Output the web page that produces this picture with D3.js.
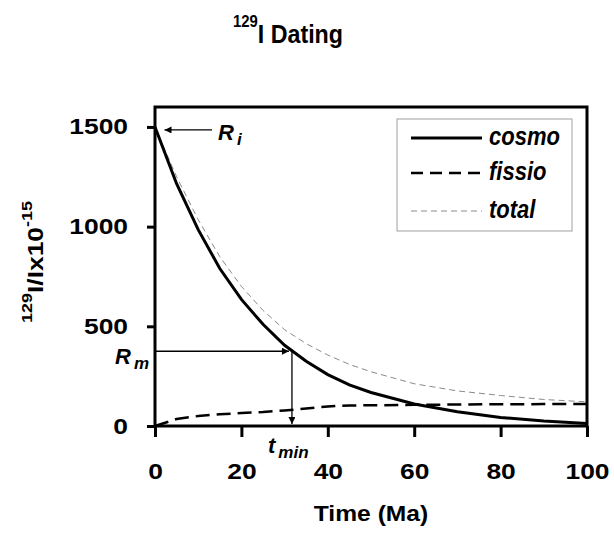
<!DOCTYPE html>
<html><head><meta charset="utf-8">
<script src="https://cdn.jsdelivr.net/npm/d3@7"></script>
<style>
html,body{margin:0;padding:0;background:#fff;}
svg{display:block;font-family:"Liberation Sans",Arial,sans-serif;}
</style></head>
<body>
<svg id="c" width="614" height="536"></svg>
<script>
// ---- data ----
const time   = [0, 5, 10, 15, 20, 25, 30, 35, 40, 45, 50, 60, 70, 80, 90, 100];
const cosmo  = [1500, 1215, 985, 790, 635, 510, 405, 325, 258, 206, 168, 110, 72, 43, 25, 12];
const fissio = [0, 35, 50, 59, 65, 70, 78, 88, 98, 103, 104, 106, 108, 109, 110, 110];
const total  = [1500, 1250, 1035, 849, 700, 580, 483, 413, 356, 309, 272, 212, 176, 153, 133, 121];
const xTicks = [0, 20, 40, 60, 80, 100];
const yTicks = [0, 500, 1000, 1500];
const seriesNames = ["cosmo", "fissio", "total"];
const Ri = 1500;      // initial ratio
const Rm = 375;       // measured ratio
const tmin = 31.7;    // minimum age (Ma)

const svg = d3.select("#c");
const L = 155, R = 587, T = 107, B = 426;
const x = d3.scaleLinear().domain([0, 100]).range([L, R]);
const y = d3.scaleLinear().domain([0, 1600]).range([B, T]);

const defs = svg.append("defs");
defs.append("marker").attr("id", "ah").attr("viewBox", "0 0 10 10")
  .attr("refX", 10).attr("refY", 5).attr("markerWidth", 9).attr("markerHeight", 7)
  .attr("markerUnits", "userSpaceOnUse").attr("orient", "auto")
  .append("path").attr("d", "M0,0 L10,5 L0,10 Z").attr("fill", "#000");

// title
const tg = svg.append("g").attr("transform", "translate(233,43) scale(0.93,1)");
const tt = tg.append("text").attr("font-weight", "bold").attr("fill", "#000");
tt.append("tspan").attr("font-size", 16).attr("dy", -16).text("129");
tt.append("tspan").attr("font-size", 25).attr("dy", 16).text("I Dating");

// axes
const xAxis = svg.append("g").attr("transform", `translate(0,${B})`)
  .call(d3.axisBottom(x).tickValues(xTicks).tickSize(11).tickPadding(26).tickFormat(d3.format("d")));
const yAxis = svg.append("g").attr("transform", `translate(${L},0)`)
  .call(d3.axisLeft(y).tickValues(yTicks).tickSize(8).tickPadding(19).tickFormat(d3.format("d")));
[xAxis, yAxis].forEach(a => {
  a.select(".domain").remove();
  a.selectAll(".tick line").attr("stroke", "#000").attr("stroke-width", 3);
  a.selectAll(".tick text").attr("font-size", 22).attr("font-weight", "bold")
   .attr("font-family", "Liberation Sans, Arial, sans-serif").attr("fill", "#000");
});
xAxis.selectAll(".tick text").attr("transform", "scale(1.2,1)");
yAxis.selectAll(".tick text").attr("x", -27 / 1.2).attr("transform", "scale(1.2,1)");

// frame
svg.append("rect").attr("x", L).attr("y", T).attr("width", R - L).attr("height", B - T)
  .attr("fill", "none").attr("stroke", "#000").attr("stroke-width", 3);

// axis titles
svg.append("text").attr("transform", "translate(371,521) scale(1.12,1)")
  .attr("text-anchor", "middle").attr("font-size", 22).attr("font-weight", "bold").text("Time (Ma)");
const yt = svg.append("text").attr("transform", "translate(43,262) rotate(-90) scale(1.2,1)")
  .attr("text-anchor", "middle").attr("font-weight", "bold");
yt.append("tspan").attr("font-size", 15).attr("dy", -11).text("129");
yt.append("tspan").attr("font-size", 22).attr("dy", 11).text("I/Ix10");
yt.append("tspan").attr("font-size", 15).attr("dy", -11).text("-15");

// lines
const line = vals => d3.line().x((d, i) => x(time[i])).y(d => y(d))(vals);
svg.append("path").attr("d", line(total)).attr("fill", "none")
  .attr("stroke", "#8a8a8a").attr("stroke-width", 1).attr("stroke-dasharray", "6,4");
svg.append("path").attr("d", line(fissio)).attr("fill", "none")
  .attr("stroke", "#000").attr("stroke-width", 2.5).attr("stroke-dasharray", "14,7");
svg.append("path").attr("d", line(cosmo)).attr("fill", "none")
  .attr("stroke", "#000").attr("stroke-width", 3);

// annotations
svg.append("line").attr("x1", x(13.2)).attr("x2", x(2.2)).attr("y1", y(Ri) + 3).attr("y2", y(Ri) + 3)
  .attr("stroke", "#000").attr("stroke-width", 1.3).attr("marker-end", "url(#ah)");
svg.append("line").attr("x1", x(0)).attr("x2", x(tmin) - 3).attr("y1", y(Rm)).attr("y2", y(Rm))
  .attr("stroke", "#000").attr("stroke-width", 1.3).attr("marker-end", "url(#ah)");
svg.append("line").attr("x1", x(tmin)).attr("x2", x(tmin)).attr("y1", y(Rm)).attr("y2", y(0) - 2)
  .attr("stroke", "#000").attr("stroke-width", 1.3).attr("marker-end", "url(#ah)");

function lab(px, py, main, sub, subDx) {
  const t = svg.append("text").attr("x", px).attr("y", py)
    .attr("font-weight", "bold").attr("font-style", "italic").attr("fill", "#000");
  t.append("tspan").attr("font-size", 22).text(main);
  t.append("tspan").attr("font-size", 17).attr("dx", subDx).attr("dy", 5).text(sub);
}
lab(218, 140, "R", "i", 3);
lab(115, 364, "R", "m", 3);
lab(268, 453, "t", "min", 3);

// legend
const lg = svg.append("g");
lg.append("rect").attr("x", 397).attr("y", 119).attr("width", 175).attr("height", 112)
  .attr("fill", "#fff").attr("stroke", "#a0a0a0").attr("stroke-width", 1);
const styles = [
  {stroke: "#000", w: 3, dash: null},
  {stroke: "#000", w: 2.5, dash: "12,7"},
  {stroke: "#8a8a8a", w: 1, dash: "6,4"}
];
const ly = [138, 173, 211];
seriesNames.forEach((n, i) => {
  lg.append("line").attr("x1", 411).attr("x2", 482).attr("y1", ly[i]).attr("y2", ly[i])
    .attr("stroke", styles[i].stroke).attr("stroke-width", styles[i].w)
    .attr("stroke-dasharray", styles[i].dash);
  lg.append("text").attr("transform", `translate(489,${ly[i] + 7}) scale(0.88,1)`)
    .attr("font-size", 25).attr("font-weight", "bold").attr("font-style", "italic").text(n);
});
</script>
</body></html>
